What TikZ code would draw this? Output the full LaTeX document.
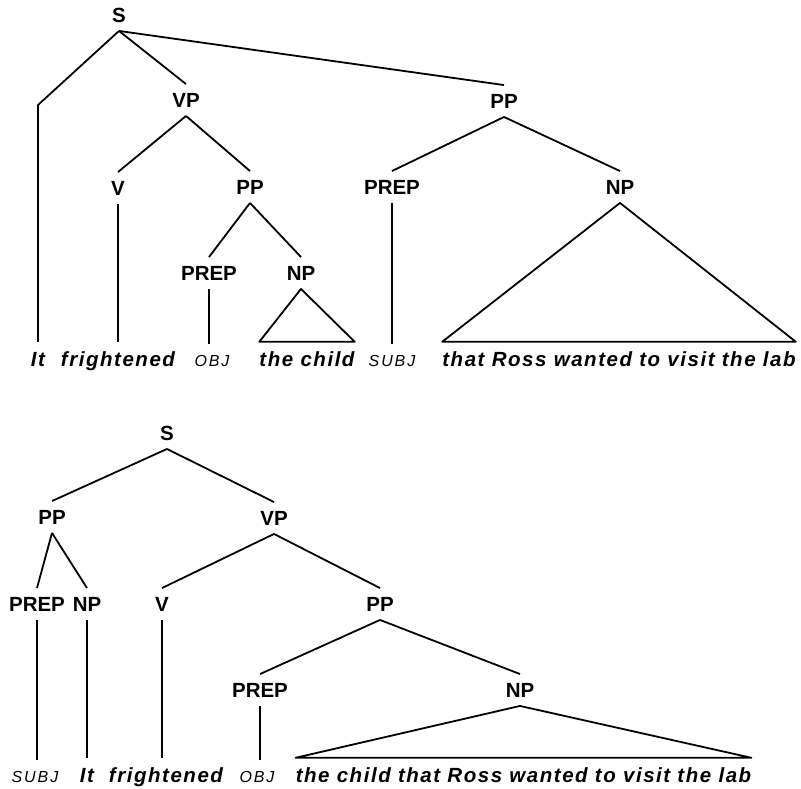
\documentclass[tikz,border=0pt]{standalone}
\usepackage{fontspec}
\setmainfont{Liberation Sans}
\newfontfamily\wordfont[LetterSpace=7.5]{Liberation Sans}
\newfontfamily\smallfont[LetterSpace=12]{Liberation Sans}
\begin{document}
\begin{tikzpicture}[x=1pt,y=-1pt,
  cat/.style={font=\fontsize{20.5}{24}\selectfont\bfseries, inner xsep=0pt, inner ysep=8.5pt, text height=14.5pt, text depth=0pt},
  word/.style={font=\wordfont\fontsize{20.5}{24}\selectfont\bfseries\itshape, inner xsep=0pt, inner ysep=10pt, text height=14pt, text depth=0pt, anchor=base},
  smallword/.style={font=\smallfont\fontsize{16}{19}\selectfont\itshape, inner xsep=0pt, inner ysep=10pt, text height=11.5pt, text depth=0pt, anchor=base},
  edge/.style={line width=1.8pt, line join=round}]
\useasboundingbox (0,0) rectangle (801,789);
% ---------- top tree ----------
\node[cat] (S) at (119,15) {S};
\node[cat] (VP) at (186,100) {VP};
\node[cat] (PPa) at (504,101) {PP};
\node[cat] (V) at (118,188) {V};
\node[cat] (PPb) at (250,187) {PP};
\node[cat] (PREPa) at (392,187) {PREP};
\node[cat] (NPa) at (620,187) {NP};
\node[cat] (PREPb) at (209,273) {PREP};
\node[cat] (NPb) at (301,273) {NP};
\coordinate (bend) at (38,105);
\node[word] (w1) at (38,366) {It};
\node[word] (w2) at (118,366) {frightened};
\node[smallword] (w3) at (212,366) {OBJ};
\node[word] (w4) at (307,366) {the child};
\node[smallword] (w5) at (392,366) {SUBJ};
\node[word] (w6) at (619,366) {that Ross wanted to visit the lab};
\draw[edge] (S.south) -- (bend) -- (w1.north);
\draw[edge] (S.south) -- (VP.north);
\draw[edge] (S.south) -- (PPa.north);
\draw[edge] (VP.south) -- (V.north);
\draw[edge] (VP.south) -- (PPb.north);
\draw[edge] (V.south) -- (w2.north);
\draw[edge] (PPb.south) -- (PREPb.north);
\draw[edge] (PPb.south) -- (NPb.north);
\draw[edge] (PREPb.south) -- (PREPb.south |- w3.north);
\draw[edge] (NPb.south) -- (w4.north west) -- (w4.north east) -- cycle;
\draw[edge] (PPa.south) -- (PREPa.north);
\draw[edge] (PPa.south) -- (NPa.north);
\draw[edge] (PREPa.south) -- (w5.north);
\draw[edge] (NPa.south) -- (w6.north west) -- (w6.north east) -- cycle;
% ---------- bottom tree ----------
\node[cat] (S2) at (167,433) {S};
\node[cat] (PPc) at (52,517) {PP};
\node[cat] (VP2) at (274,518) {VP};
\node[cat] (PREPc) at (37,604) {PREP};
\node[cat] (NPc) at (87,604) {NP};
\node[cat] (V2) at (162,604) {V};
\node[cat] (PPd) at (380,604) {PP};
\node[cat] (PREPd) at (260,690) {PREP};
\node[cat] (NPd) at (520,690) {NP};
\node[smallword] (b1) at (35,782) {SUBJ};
\node[word] (b2) at (87,782) {It};
\node[word] (b3) at (166,782) {frightened};
\node[smallword] (b4) at (257,782) {OBJ};
\node[word] (b5) at (523.5,782) {the child that Ross wanted to visit the lab};
\draw[edge] (S2.south) -- (PPc.north);
\draw[edge] (S2.south) -- (VP2.north);
\draw[edge] (PPc.south) -- (PREPc.north);
\draw[edge] (PPc.south) -- (NPc.north);
\draw[edge] (VP2.south) -- (V2.north);
\draw[edge] (VP2.south) -- (PPd.north);
\draw[edge] (PREPc.south) -- (PREPc.south |- b1.north);
\draw[edge] (NPc.south) -- (NPc.south |- b2.north);
\draw[edge] (V2.south) -- (V2.south |- b3.north);
\draw[edge] (PPd.south) -- (PREPd.north);
\draw[edge] (PPd.south) -- (NPd.north);
\draw[edge] (PREPd.south) -- (PREPd.south |- b4.north);
\draw[edge] (NPd.south) -- (b5.north west) -- (b5.north east) -- cycle;
\end{tikzpicture}
\end{document}
